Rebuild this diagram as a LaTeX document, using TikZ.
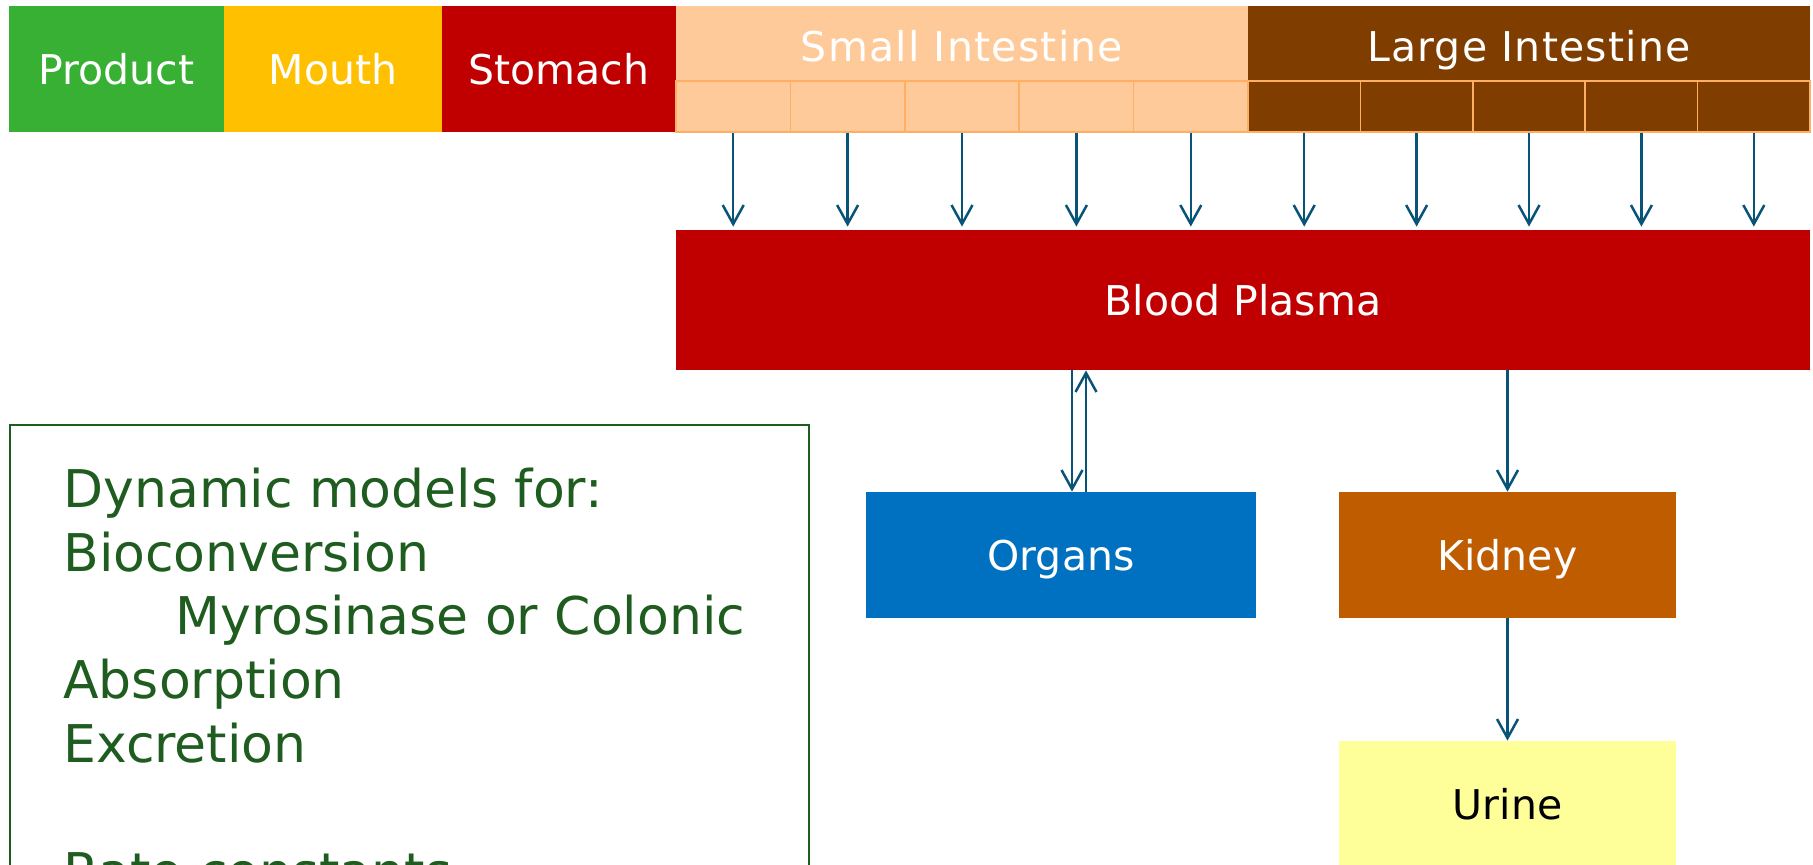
\documentclass[tikz,border=0pt]{standalone}
\usepackage{fontspec}
\setmainfont{DejaVu Sans}
\usetikzlibrary{arrows.meta}
\definecolor{prodgreen}{RGB}{55,176,52}
\definecolor{mouthyellow}{RGB}{255,192,0}
\definecolor{stomachred}{RGB}{192,0,0}
\definecolor{smallpeach}{RGB}{255,202,153}
\definecolor{largebrown}{RGB}{127,61,0}
\definecolor{cellline}{RGB}{255,175,100}
\definecolor{flowblue}{RGB}{8,84,120}
\definecolor{organblue}{RGB}{0,112,192}
\definecolor{kidneyorange}{RGB}{192,92,0}
\definecolor{urineyellow}{RGB}{255,255,153}
\definecolor{notegreen}{RGB}{31,92,31}
\begin{document}
\begin{tikzpicture}[x=0.5pt,y=-0.5pt,
blk/.style={rectangle,inner sep=0pt,text=white,font=\fontsize{20.5}{24}\selectfont,text height=15pt,text depth=0pt,minimum height=63pt},
gut/.style={blk,font=\fontsize{20.5}{24}\selectfont\addfontfeature{LetterSpace=3},text height=18pt,minimum height=37.5pt},
cell/.style={rectangle,inner sep=0pt,draw=cellline,line width=0.8pt,minimum height=25.5pt},
flow/.style={draw=flowblue,line width=1.25pt,-{Straight Barb[length=9.5pt,width=10.5pt]}},
note/.style={anchor=base west,inner sep=0pt,text=notegreen,font=\fontsize{26}{32}\selectfont}]
\useasboundingbox (0,0) rectangle (1813,864);
\clip (0,0) rectangle (1813,864);
\def\wSmall{114.4};
\def\wLarge{112.4};
\def\xSmall{676};
\def\xLarge{1248};
\node[blk,fill=prodgreen,minimum width=107.5pt] (product) at (116.5,69) {Product};
\node[blk,fill=mouthyellow,minimum width=109pt] (mouth) at (333,69) {Mouth};
\node[blk,fill=stomachred,minimum width=117pt] (stomach) at (559,69) {Stomach};
\node[gut,fill=smallpeach,minimum width=286pt] (small) at (962,43.5) {Small Intestine};
\node[gut,fill=largebrown,minimum width=281pt] (large) at (1529,43.5) {Large Intestine};
\node[blk,fill=stomachred,minimum width=567pt,minimum height=70pt] (plasma) at (1243,300) {Blood Plasma};
\foreach \i in {1,...,5} {
\node[cell,fill=smallpeach,minimum width=57.2pt] (si\i) at ({\xSmall+\wSmall*(\i-0.5)},106.5) {};
\node[cell,fill=largebrown,minimum width=56.2pt] (li\i) at ({\xLarge+\wLarge*(\i-0.5)},106.5) {};
\draw[flow,shorten >=1.5pt] (si\i.south) -- (si\i.south |- plasma.north);
\draw[flow,shorten >=1.5pt] (li\i.south) -- (li\i.south |- plasma.north);
}
\node[blk,fill=organblue,minimum width=195pt] (organs) at (1061,555) {Organs};
\node[blk,fill=kidneyorange,minimum width=168.5pt] (kidney) at (1507.5,555) {Kidney};
\node[blk,fill=urineyellow,text=black,minimum width=168.5pt] (urine) at (1507.5,804) {Urine};
\draw[flow] ([xshift=5.5pt]plasma.south -| organs.north) -- ([xshift=5.5pt]organs.north);
\draw[flow] ([xshift=12.5pt]organs.north) -- ([xshift=12.5pt]plasma.south -| organs.north);
\draw[flow] (plasma.south -| kidney.north) -- (kidney.north);
\draw[flow] (kidney.south) -- (urine.north);
\node[draw=notegreen,line width=0.75pt,inner sep=0pt,anchor=north west,minimum width=399.5pt,minimum height=300pt] (notes) at (9,424) {};
\foreach \xx/\yy/\txt [count=\i] in {63/507/Dynamic models for:,63/571/Bioconversion,175/634/Myrosinase or Colonic,63/698/Absorption,63/762/Excretion,63/890/Rate constants}
\node[note] (line\i) at (\xx,\yy) {\txt};
\end{tikzpicture}
\end{document}
